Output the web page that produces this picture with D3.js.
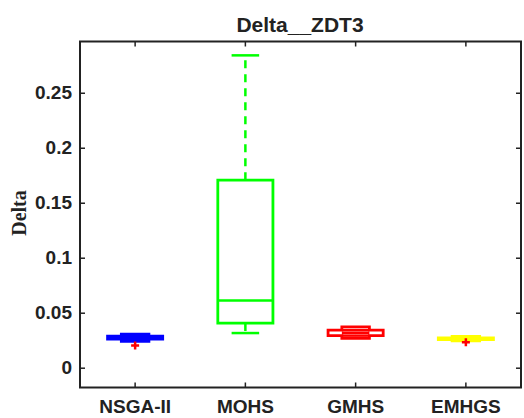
<!DOCTYPE html>
<html>
<head>
<meta charset="utf-8">
<script src="https://cdn.jsdelivr.net/npm/d3@7"></script>
<style>
  body { margin: 0; background: #fff; }
  text { font-family: "Liberation Sans", Arial, sans-serif; font-weight: bold; fill: #222; }
</style>
</head>
<body>
<div id="chart"></div>
<script>
// Box plot of Delta values on ZDT3 for four algorithms

var categories = ["NSGA-II", "MOHS", "GMHS", "EMHGS"];
var q1 = [0.0260, 0.0406, 0.0292, 0.0256];
var median = [0.0273, 0.0612, 0.0318, 0.0265];
var q3 = [0.0286, 0.1705, 0.0342, 0.0272];
var whiskerLo = [0.0260, 0.0315, 0.0292, 0.0256];
var whiskerHi = [0.0286, 0.2840, 0.0342, 0.0272];
var notchLo = [0.0239, 0.0406, 0.0268, 0.0245];
var notchHi = [0.0306, 0.1705, 0.0372, 0.0285];
var outliers = [[0.0203], [], [], [0.0232]];
var yTicks = [0, 0.05, 0.1, 0.15, 0.2, 0.25];

var colors = ["#0000ff", "#00ff00", "#ff0000", "#ffff00"];

var width = 524, height = 418;
var margin = { top: 41.5, right: 3, bottom: 30.5, left: 80 };

var svg = d3.select("#chart").append("svg")
    .attr("width", width)
    .attr("height", height)

var x = d3.scaleBand()
    .domain(categories)
    .range([margin.left, width - margin.right])
    .paddingInner(0)
    .paddingOuter(0)

var y = d3.scaleLinear()
    .domain([-0.018, 0.2966])
    .range([height - margin.bottom, margin.top])

var bw = x.bandwidth() * 0.5;
var cx = d => x(d) + x.bandwidth() / 2;

//Axes with inward ticks
var yAxis = svg.append("g")
    .attr("transform", "translate(" + margin.left + ",0)")
    .call(d3.axisLeft(y).tickValues(yTicks).tickFormat(d => d).tickSizeInner(-5).tickSizeOuter(0).tickPadding(8))
    .call(g => g.select(".domain").remove())

yAxis.selectAll("text").attr("font-size", "19px").attr("font-family", null).attr("font-weight", null)

svg.append("g")
    .attr("transform", "translate(" + (width - margin.right) + ",0)")
    .call(d3.axisRight(y).tickValues(yTicks).tickFormat("").tickSizeInner(-5).tickSizeOuter(0))
    .call(g => g.select(".domain").remove())

var xAxis = svg.append("g")
    .attr("transform", "translate(0," + (height - margin.bottom) + ")")
    .call(d3.axisBottom(x).tickSizeInner(-5).tickSizeOuter(0).tickPadding(12))
    .call(g => g.select(".domain").remove())

xAxis.selectAll("text").attr("font-size", "19px").attr("font-family", null).attr("font-weight", null)

svg.append("g")
    .attr("transform", "translate(0," + margin.top + ")")
    .call(d3.axisTop(x).tickFormat("").tickSizeInner(-5).tickSizeOuter(0))
    .call(g => g.select(".domain").remove())

svg.selectAll(".tick line").attr("stroke", "#222").attr("stroke-width", 1.5)

svg.append("rect")
    .attr("x", margin.left)
    .attr("y", margin.top)
    .attr("width", width - margin.right - margin.left)
    .attr("height", height - margin.bottom - margin.top)
    .attr("fill", "none")
    .attr("stroke", "#222")
    .attr("stroke-width", 2)

//Title and y label
svg.append("text")
    .attr("x", 300)
    .attr("y", 32)
    .attr("text-anchor", "middle")
    .attr("font-size", "21px")
    .text("Delta__ZDT3")

svg.append("text")
    .attr("transform", "translate(26,213) rotate(-90)")
    .attr("text-anchor", "middle")
    .attr("font-size", "20px")
    .style("font-family", "'Liberation Serif', 'Times New Roman', serif")
    .text("Delta")

//Boxes
var boxes = svg.append("g").attr("class", "boxes")

categories.forEach(function(c, i){
    var col = colors[i];
    var xc = cx(c);
    var L = xc - bw / 2, R = xc + bw / 2;
    var nL = xc - bw / 4, nR = xc + bw / 4;
    var notched = notchLo[i] < q1[i] || notchHi[i] > q3[i];
    var g = boxes.append("g");

    // whiskers
    g.append("line")
        .attr("x1", xc).attr("x2", xc)
        .attr("y1", y(q3[i])).attr("y2", y(whiskerHi[i]))
        .attr("stroke", col).attr("stroke-width", 2.5).attr("stroke-dasharray", "8,6")
    g.append("line")
        .attr("x1", xc).attr("x2", xc)
        .attr("y1", y(q1[i])).attr("y2", y(whiskerLo[i]))
        .attr("stroke", col).attr("stroke-width", 2.5).attr("stroke-dasharray", "8,6")
    ;[whiskerLo[i], whiskerHi[i]].forEach(function(w){
        g.append("line")
            .attr("x1", xc - bw / 4).attr("x2", xc + bw / 4)
            .attr("y1", y(w)).attr("y2", y(w))
            .attr("stroke", col).attr("stroke-width", 2.5)
    })

    // box outline (with notch)
    var pts;
    if (notched) {
        pts = [[L, q1[i]], [L, q3[i]], [nL, q3[i]], [nL, notchHi[i]], [nR, notchHi[i]], [nR, q3[i]],
               [R, q3[i]], [R, q1[i]], [nR, q1[i]], [nR, notchLo[i]], [nL, notchLo[i]], [nL, q1[i]]];
    } else {
        pts = [[L, q1[i]], [L, q3[i]], [R, q3[i]], [R, q1[i]]];
    }
    g.append("path")
        .attr("d", "M" + pts.map(p => p[0] + "," + y(p[1])).join("L") + "Z")
        .attr("fill", "none")
        .attr("stroke", col)
        .attr("stroke-width", 2.8)
        .attr("stroke-linejoin", "miter")

    // median
    g.append("line")
        .attr("x1", notched ? nL : L).attr("x2", notched ? nR : R)
        .attr("y1", y(median[i])).attr("y2", y(median[i]))
        .attr("stroke", col).attr("stroke-width", 2.5)

    // outliers
    outliers[i].forEach(function(o){
        g.append("path")
            .attr("d", "M" + (xc - 4) + "," + y(o) + "H" + (xc + 4) + "M" + xc + "," + (y(o) - 4) + "V" + (y(o) + 4))
            .attr("stroke", "#ff0000")
            .attr("stroke-width", 2.5)
    })
})
</script>
</body>
</html>
